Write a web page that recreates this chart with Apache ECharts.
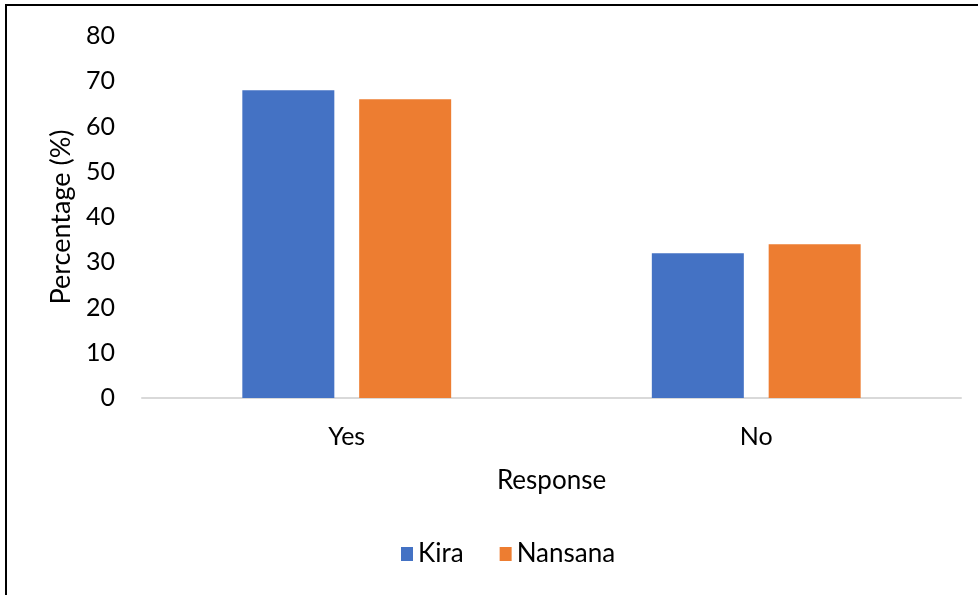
<!DOCTYPE html>
<html>
<head>
<meta charset="utf-8">
<script src="https://cdn.jsdelivr.net/npm/echarts@6/dist/echarts.min.js"></script>
<style>
  html, body { margin: 0; padding: 0; background: #fff; }
  #chart { width: 978px; height: 595px; position: relative; }
  .frame {
    position: absolute; left: 5px; top: 4px; right: 0; bottom: 0;
    border-top: 2px solid #000; border-left: 2px solid #000;
    pointer-events: none;
  }
</style>
</head>
<body>
<div id="chart"></div>
<div class="frame"></div>
<script>
const categories = ['Yes', 'No']
const kira = [68, 32]
const nansana = [66, 34]
const yTicks = { min: 0, max: 80, step: 10 }

const font = 'Lato, "Open Sans", sans-serif'
const chart = echarts.init(document.getElementById('chart'), null, { renderer: 'canvas' })

chart.setOption({
  animation: false,
  backgroundColor: '#fff',
  textStyle: { fontFamily: font, color: '#000' },
  grid: { left: 142, right: 17, top: 36, bottom: 197 },
  legend: {
    bottom: 23,
    left: 396,
    icon: 'rect',
    itemWidth: 12,
    itemHeight: 14,
    itemGap: 36,
    textStyle: { fontFamily: font, fontSize: 26, color: '#000' },
    data: ['Kira', 'Nansana'],
  },
  xAxis: {
    type: 'category',
    data: categories,
    name: 'Response',
    nameLocation: 'middle',
    nameGap: 70,
    nameTextStyle: { fontFamily: font, fontSize: 26, color: '#000' },
    axisLine: { lineStyle: { color: '#d9d9d9', width: 2 } },
    axisTick: { show: false },
    axisLabel: { fontFamily: font, fontSize: 25, color: '#000', margin: 26 },
  },
  yAxis: {
    type: 'value',
    min: yTicks.min,
    max: yTicks.max,
    interval: yTicks.step,
    name: 'Percentage (%)',
    nameLocation: 'middle',
    nameGap: 66,
    nameTextStyle: { fontFamily: font, fontSize: 27, color: '#000' },
    axisLine: { show: false },
    axisTick: { show: false },
    splitLine: { show: false },
    axisLabel: { fontFamily: font, fontSize: 25, color: '#000', margin: 27 },
  },
  series: [
    {
      name: 'Kira',
      type: 'bar',
      data: kira,
      barWidth: 92,
      barGap: '27%',
      itemStyle: { color: '#4472c4' },
    },
    {
      name: 'Nansana',
      type: 'bar',
      data: nansana,
      barWidth: 92,
      itemStyle: { color: '#ed7d31' },
    },
  ],
})
</script>
</body>
</html>
